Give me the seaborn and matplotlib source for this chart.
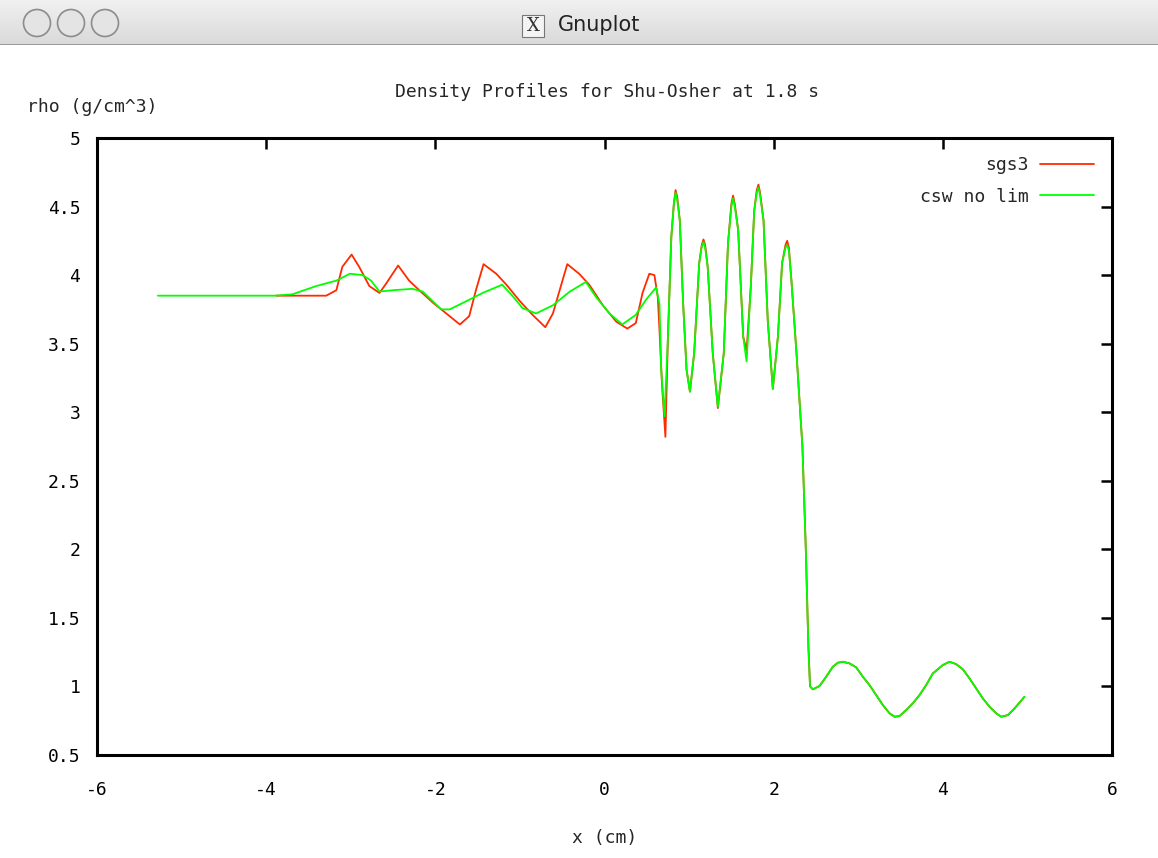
import numpy as np
import pandas as pd
import matplotlib
matplotlib.use("Agg")
import matplotlib.pyplot as plt
from matplotlib.patches import Rectangle, Circle
import seaborn as sns

# ---- data ----
# shared post-shock tail (both runs coincide there)
tail_x = [2.463, 2.542, 2.621, 2.700, 2.759, 2.818, 2.897, 2.976, 3.054, 3.133,
          3.212, 3.291, 3.370, 3.429, 3.488, 3.567, 3.645, 3.724, 3.803, 3.882,
          4.000, 4.079, 4.158, 4.237, 4.315, 4.394, 4.473, 4.552, 4.631, 4.690,
          4.769, 4.848, 4.966]
tail_y = [0.979, 1.003, 1.071, 1.144, 1.173, 1.180, 1.168, 1.139, 1.071, 1.010,
          0.937, 0.864, 0.804, 0.779, 0.784, 0.828, 0.877, 0.937, 1.010, 1.095,
          1.156, 1.180, 1.163, 1.125, 1.059, 0.986, 0.913, 0.852, 0.804, 0.779,
          0.791, 0.840, 0.925]

sgs3_x = [-3.88, -3.29, -3.17, -3.10, -2.99, -2.90, -2.78, -2.66, -2.58, -2.44,
          -2.31, -2.19, -2.03, -1.87, -1.71, -1.60, -1.52, -1.43, -1.28, -1.16,
          -1.00, -0.85, -0.70, -0.61, -0.53, -0.44, -0.30, -0.18, -0.02, 0.14,
          0.27, 0.37, 0.45, 0.53, 0.59, 0.63, 0.65, 0.68, 0.72, 0.75, 0.79,
          0.82, 0.84, 0.86, 0.89, 0.93, 0.97, 1.01, 1.06, 1.12, 1.15, 1.17,
          1.19, 1.22, 1.28, 1.34, 1.41, 1.46, 1.50, 1.52, 1.54, 1.58, 1.64,
          1.68, 1.73, 1.77, 1.80, 1.82, 1.84, 1.88, 1.93, 1.99, 2.05, 2.10,
          2.14, 2.16, 2.18, 2.21, 2.27, 2.31, 2.34, 2.38, 2.41, 2.43] + tail_x
sgs3_y = [3.85, 3.85, 3.89, 4.06, 4.15, 4.06, 3.92, 3.87, 3.94, 4.07,
          3.96, 3.89, 3.80, 3.72, 3.64, 3.70, 3.89, 4.08, 4.01, 3.93,
          3.81, 3.71, 3.62, 3.72, 3.89, 4.08, 4.01, 3.93, 3.78, 3.66,
          3.61, 3.65, 3.87, 4.01, 4.00, 3.84, 3.60, 3.20, 2.82, 3.55, 4.28,
          4.52, 4.62, 4.57, 4.40, 3.79, 3.31, 3.15, 3.43, 4.09, 4.22, 4.26,
          4.22, 4.06, 3.43, 3.03, 3.43, 4.23, 4.52, 4.58, 4.52, 4.33, 3.55,
          3.45, 3.92, 4.47, 4.62, 4.66, 4.60, 4.40, 3.67, 3.17, 3.55, 4.09,
          4.22, 4.25, 4.20, 3.96, 3.43, 3.04, 2.75, 2.00, 1.30, 1.00] + tail_y

csw_x = [-5.28, -3.90, -3.69, -3.41, -3.17, -3.01, -2.86, -2.76, -2.66, -2.50,
         -2.27, -2.15, -1.93, -1.83, -1.60, -1.44, -1.21, -1.09, -0.97, -0.81,
         -0.61, -0.41, -0.22, -0.10, 0.06, 0.21, 0.37, 0.49, 0.61, 0.65, 0.67,
         0.71, 0.75, 0.79, 0.82, 0.84, 0.86, 0.89, 0.93, 0.97, 1.01, 1.06,
         1.12, 1.15, 1.17, 1.19, 1.22, 1.28, 1.34, 1.41, 1.46, 1.50, 1.52,
         1.54, 1.58, 1.64, 1.68, 1.73, 1.77, 1.80, 1.82, 1.84, 1.88, 1.93,
         1.99, 2.05, 2.10, 2.14, 2.16, 2.18, 2.21, 2.27, 2.31, 2.34, 2.38,
         2.41, 2.43] + tail_x
csw_y = [3.85, 3.85, 3.86, 3.92, 3.96, 4.01, 4.00, 3.96, 3.88, 3.89,
         3.90, 3.88, 3.75, 3.75, 3.82, 3.87, 3.93, 3.85, 3.76, 3.72,
         3.78, 3.88, 3.95, 3.84, 3.72, 3.64, 3.71, 3.82, 3.91, 3.79, 3.31,
         2.97, 3.55, 4.28, 4.52, 4.60, 4.55, 4.40, 3.79, 3.31, 3.15, 3.43,
         4.09, 4.21, 4.24, 4.20, 4.06, 3.43, 3.04, 3.43, 4.23, 4.50, 4.56,
         4.50, 4.33, 3.55, 3.37, 3.92, 4.47, 4.60, 4.64, 4.58, 4.40, 3.67,
         3.17, 3.55, 4.09, 4.20, 4.22, 4.18, 3.96, 3.43, 3.04, 2.75, 2.00,
         1.30, 1.00] + tail_y

series_names = ["sgs3", "csw no lim"]
series_colors = ["#ff2a00", "#00ff00"]
x_ticks = [-6, -4, -2, 0, 2, 4, 6]
y_ticks = [0.5, 1, 1.5, 2, 2.5, 3, 3.5, 4, 4.5, 5]

df = pd.concat([
    pd.DataFrame({"x": sgs3_x, "rho": sgs3_y, "series": series_names[0]}),
    pd.DataFrame({"x": csw_x, "rho": csw_y, "series": series_names[1]}),
], ignore_index=True)

sns.set_theme(style="white")
plt.rcParams["font.family"] = ["DejaVu Sans Mono"]

W, H = 1158, 858
fig = plt.figure(figsize=(W / 100, H / 100), dpi=100)
fig.patch.set_facecolor("white")

# ---- window chrome (title bar) ----
bar_h = 45
for i in range(bar_h):
    g = 0.94 - 0.09 * i / bar_h
    fig.add_artist(Rectangle((0, 1 - (i + 1) / H), 1, 1.0 / H + 0.0005,
                             transform=fig.transFigure, facecolor=(g, g, g),
                             edgecolor="none", zorder=0))
fig.add_artist(Rectangle((0, 1 - bar_h / H), 1, 1.0 / H,
                         transform=fig.transFigure, facecolor="#9a9a9a",
                         edgecolor="none"))
for cx in [37, 71, 105]:
    fig.add_artist(Circle((cx, H - 23), 13.5, transform=None,
                          facecolor="#e4e4e4", edgecolor="#8c8c8c", lw=1.2))
fig.add_artist(Rectangle((522 / W, 1 - 37 / H), 22 / W, 22 / H,
                         transform=fig.transFigure, facecolor="#f4f4f4",
                         edgecolor="#777777", lw=0.8))
fig.text(533 / W, 1 - 26 / H, "X", ha="center", va="center", fontsize=13,
         family=["DejaVu Serif"], color="#333333")
fig.text(558 / W, 1 - 25 / H, "Gnuplot", ha="left", va="center",
         fontsize=15, family=["DejaVu Sans"], color="#222222")

# ---- plot ----
ax = fig.add_axes([97 / W, 1 - 755 / H, (1112 - 97) / W, (755 - 138) / H])
sns.lineplot(data=df, x="x", y="rho", hue="series", hue_order=series_names,
             palette=series_colors, sort=False, estimator=None,
             linewidth=1.3, ax=ax)

ax.set_xlim(-6, 6)
ax.set_ylim(0.5, 5)
ax.set_xticks(x_ticks)
ax.set_yticks(y_ticks)
ax.set_xticklabels([f"{v:g}" for v in x_ticks])
ax.set_yticklabels([f"{v:g}" for v in y_ticks])
ax.tick_params(direction="in", length=8, width=1.8, top=True, right=True,
               labelsize=13, colors="black")
ax.tick_params(axis="x", pad=19)
ax.tick_params(axis="y", pad=12)
for s in ax.spines.values():
    s.set_visible(True)
    s.set_linewidth(2.2)
    s.set_color("black")
ax.grid(False)

ax.set_xlabel("x (cm)", fontsize=13, labelpad=21)
ax.set_ylabel("")
fig.text(27 / W, 1 - 107 / H, "rho (g/cm^3)", ha="left", va="center",
         fontsize=13)
fig.text(607 / W, 1 - 92 / H, "Density Profiles for Shu-Osher at 1.8 s",
         ha="center", va="center", fontsize=13)

leg = ax.legend(loc="upper right", frameon=False, markerfirst=False,
                fontsize=13, handlelength=3.0, borderaxespad=0.6,
                labelspacing=0.75, handletextpad=0.6)
for line in leg.get_lines():
    line.set_linewidth(1.3)

fig.savefig("out.png", dpi=100, facecolor="white")
